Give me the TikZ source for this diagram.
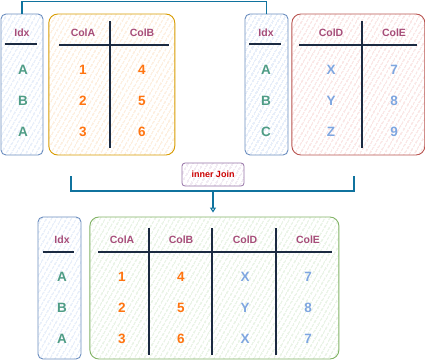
\documentclass[tikz,border=0pt]{standalone}
\usepackage{fontspec}
\setmainfont{Liberation Sans}
\usepackage{xcolor}
\usetikzlibrary{arrows.meta,positioning,patterns.meta}
\definecolor{Ink}{HTML}{1B2A41}
\definecolor{Link}{HTML}{10739E}
\definecolor{HeadPurple}{HTML}{A64D79}
\definecolor{KeyGreen}{HTML}{4E9C85}
\definecolor{NumOrange}{HTML}{FF7410}
\definecolor{ValBlue}{HTML}{7EA6E0}
\definecolor{JoinRed}{HTML}{CC0000}
\definecolor{IdxLine}{HTML}{6C8EBF}
\definecolor{IdxHatch}{HTML}{BFD3F2}
\definecolor{OrangeLine}{HTML}{D79B00}
\definecolor{OrangeHatch}{HTML}{F8D3A8}
\definecolor{RedLine}{HTML}{B85450}
\definecolor{RedHatch}{HTML}{F2BAB8}
\definecolor{GreenLine}{HTML}{82B366}
\definecolor{GreenHatch}{HTML}{C4DFBB}
\definecolor{JoinLine}{HTML}{9673A6}
\definecolor{JoinHatch}{HTML}{D6C5DE}

\begin{document}
\begin{tikzpicture}[
  x=1pt, y=-1pt,
  hatch/.style={pattern={Lines[angle=60,distance=4pt,line width=0.7pt]}, pattern color=#1},
  panel/.style={line width=0.9pt, minimum height=141pt, inner sep=0pt},
  idx/.style={panel, draw=IdxLine, hatch=IdxHatch, rounded corners=5pt, minimum width=42pt},
  tab/.style={panel, rounded corners=9pt},
  hdr/.style={font=\bfseries\fontsize{10.5}{12}\selectfont, text=HeadPurple},
  val/.style={font=\bfseries\fontsize{13.5}{15}\selectfont, text=#1},
  rule/.style={draw=Ink, line width=1.1pt},
  link/.style={draw=Link, line width=1.1pt}
]
  \useasboundingbox (0,0) rectangle (425,360);

  \node[idx] (idxA) at (22,84.5) {};
  \node[tab, draw=OrangeLine, hatch=OrangeHatch, minimum width=126pt, right=5pt of idxA] (tabA) {};
  \node[idx, minimum width=43pt] (idxB) at (266.5,84.5) {};
  \node[tab, draw=RedLine, hatch=RedHatch, minimum width=133pt, right=3pt of idxB] (tabB) {};
  \node[idx, minimum width=43pt, minimum height=142pt] (idxR) at (59.5,288) {};
  \node[tab, draw=GreenLine, hatch=GreenHatch, minimum width=249pt, minimum height=142pt, right=8pt of idxR] (tabR) {};
  \node[draw=JoinLine, hatch=JoinHatch, line width=0.8pt, rounded corners=3pt,
    minimum width=62pt, minimum height=23pt, font=\bfseries\fontsize{9}{11}\selectfont,
    text=JoinRed] (join) at (213,174.5) {inner Join};

  \node[hdr] (hA) at (22,33) {Idx};
  \node[hdr] (hA1) at (83,33) {ColA};
  \node[hdr] (hA2) at (142,33) {ColB};
  \draw[rule] (5,44) -- (37,44);
  \draw[rule] (59,45) -- (169,45);
  \draw[rule] (110,21) -- (110,148);
  \foreach \k/\a/\b [count=\i] in {A/1/4,B/2/5,A/3/6} {
    \node[val=KeyGreen] (kA\i) at (23,39+31*\i) {\k};
    \node[val=NumOrange] (a\i) at (83,39+31*\i) {\a};
    \node[val=NumOrange] (b\i) at (142,39+31*\i) {\b};
  }

  \node[hdr] (hB) at (266,33) {Idx};
  \node[hdr] (hB1) at (331,33) {ColD};
  \node[hdr] (hB2) at (394,33) {ColE};
  \draw[rule] (249,44) -- (281,44);
  \draw[rule] (299,45) -- (417,45);
  \draw[rule] (362,21) -- (362,148);
  \foreach \k/\d/\e [count=\i] in {A/X/7,B/Y/8,C/Z/9} {
    \node[val=KeyGreen] (kB\i) at (266,39+31*\i) {\k};
    \node[val=ValBlue] (d\i) at (331,39+31*\i) {\d};
    \node[val=ValBlue] (e\i) at (394,39+31*\i) {\e};
  }

  \node[hdr] (hR) at (62,240) {Idx};
  \node[hdr] (hR1) at (122,240) {ColA};
  \node[hdr] (hR2) at (181,240) {ColB};
  \node[hdr] (hR3) at (245,240) {ColD};
  \node[hdr] (hR4) at (308,240) {ColE};
  \draw[rule] (43,252) -- (74,252);
  \draw[rule] (98,252) -- (332,252);
  \foreach \x in {149,212,276}
    \draw[rule] (\x,228) -- (\x,355);
  \foreach \k/\a/\b/\d/\e [count=\i] in {A/1/4/X/7,B/2/5/Y/8,A/3/6/X/7} {
    \node[val=KeyGreen] (kR\i) at (62,246+31*\i) {\k};
    \node[val=NumOrange] (ra\i) at (122,246+31*\i) {\a};
    \node[val=NumOrange] (rb\i) at (181,246+31*\i) {\b};
    \node[val=ValBlue] (rd\i) at (245,246+31*\i) {\d};
    \node[val=ValBlue] (re\i) at (308,246+31*\i) {\e};
  }

  \coordinate (jl) at (71,176);
  \coordinate (jr) at (354,176);
  \coordinate (jm) at (213,191);
  \draw[link] (idxA.north) -- ++(0,-12) -| (idxB.north);
  \draw[link] (jl) |- (jm) -| (jr);
  \draw[link, -{Triangle[open, length=5pt, width=6pt]}, shorten >=4pt] (jm) -- (jm |- tabR.north);
\end{tikzpicture}
\end{document}
